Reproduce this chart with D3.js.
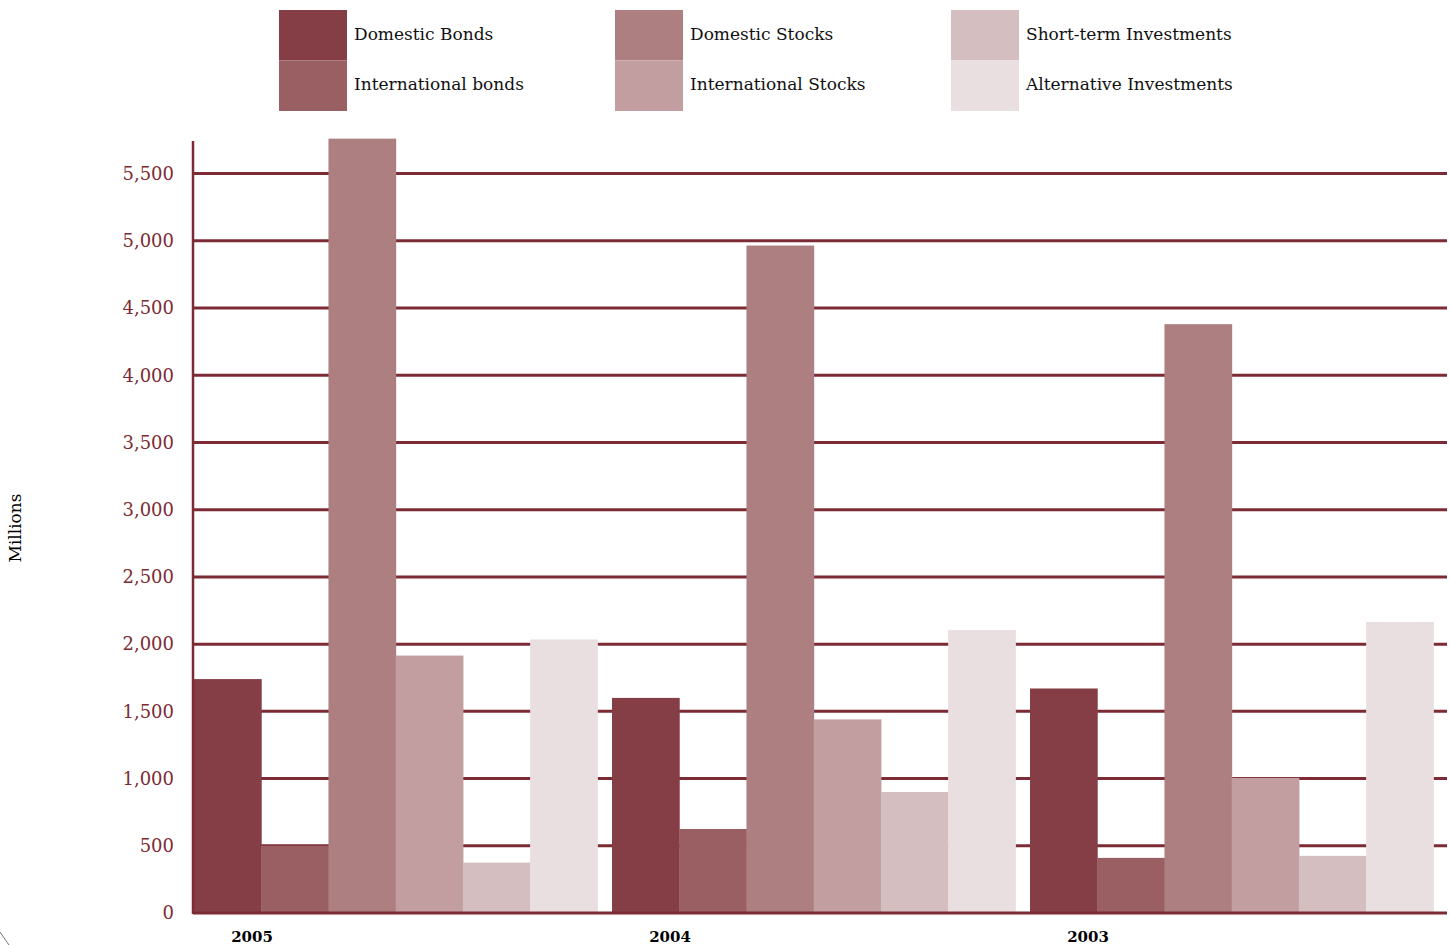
<!DOCTYPE html>
<html>
<head>
<meta charset="utf-8">
<script src="https://cdn.jsdelivr.net/npm/d3@7"></script>
<style>
  body { margin: 0; background: #fff; }
  text { font-family: "DejaVu Serif", serif; }
</style>
</head>
<body>
<div id="chart"></div>
<script>
var w = 1450;
var h = 945;

// data
var years = ["2005", "2004", "2003"];
var seriesNames = ["Domestic Bonds", "International bonds", "Domestic Stocks",
                   "International Stocks", "Short-term Investments", "Alternative Investments"];
var domesticBonds      = [1740, 1600, 1670];
var internationalBonds = [500, 625, 410];
var domesticStocks     = [5760, 4965, 4380];
var internationalStocks = [1915, 1440, 1005];
var shortTerm          = [375, 900, 425];
var alternative        = [2035, 2105, 2165];
var yTicks = [0, 500, 1000, 1500, 2000, 2500, 3000, 3500, 4000, 4500, 5000, 5500];

var seriesValues = [domesticBonds, internationalBonds, domesticStocks,
                    internationalStocks, shortTerm, alternative];
var colors = ["#853e45", "#9a5f62", "#ad7f80", "#c29ea0", "#d5bec0", "#eadfe0"];
var lineColor = "#7c2b34";

var svg = d3.select("#chart")
  .append("svg")
  .attr("width", w)
  .attr("height", h);

var plotLeft = 193, plotRight = 1447, plotBottom = 913, plotTop = 140;

var x0 = d3.scaleBand()
  .domain(years)
  .range([plotLeft + 1, plotLeft + 1 + 3 * 418])
  .padding(0);

var x1 = d3.scaleBand()
  .domain(d3.range(seriesNames.length))
  .range([0, x0.bandwidth() * 0.965]);

var y = d3.scaleLinear()
  .domain([0, 5750])
  .range([plotBottom, plotTop]);

// gridlines (behind bars)
svg.selectAll(".grid")
  .data(yTicks.filter(function(d) { return d > 0; }))
  .enter()
  .append("line")
  .attr("class", "grid")
  .attr("x1", plotLeft)
  .attr("x2", plotRight)
  .attr("y1", function(d) { return y(d); })
  .attr("y2", function(d) { return y(d); })
  .attr("stroke", lineColor)
  .attr("stroke-width", 3);

// bars
var groups = svg.selectAll(".year")
  .data(years)
  .enter()
  .append("g")
  .attr("class", "year")
  .attr("transform", function(d) { return "translate(" + x0(d) + ",0)"; });

groups.selectAll("rect")
  .data(function(d, i) {
    return seriesValues.map(function(s, k) { return { k: k, v: s[i] }; });
  })
  .enter()
  .append("rect")
  .attr("x", function(d) { return x1(d.k); })
  .attr("width", x1.bandwidth() + 0.5)
  .attr("y", function(d) { return y(d.v); })
  .attr("height", function(d) { return plotBottom - y(d.v); })
  .style("fill", function(d) { return colors[d.k]; });

// axis lines
svg.append("line")
  .attr("x1", plotLeft).attr("x2", plotLeft)
  .attr("y1", 141).attr("y2", plotBottom + 1)
  .attr("stroke", lineColor)
  .attr("stroke-width", 2.5);

svg.append("line")
  .attr("x1", plotLeft).attr("x2", plotRight)
  .attr("y1", plotBottom).attr("y2", plotBottom)
  .attr("stroke", lineColor)
  .attr("stroke-width", 3);

// y tick labels
svg.selectAll(".ylab")
  .data(yTicks)
  .enter()
  .append("text")
  .attr("class", "ylab")
  .attr("x", 174)
  .attr("y", function(d) { return y(d); })
  .attr("dy", "0.35em")
  .attr("text-anchor", "end")
  .attr("font-size", "18px")
  .attr("fill", lineColor)
  .text(function(d) { return d3.format(",")(d); });

// x labels
svg.selectAll(".xlab")
  .data(years)
  .enter()
  .append("text")
  .attr("class", "xlab")
  .attr("x", function(d) { return x0(d) + 58; })
  .attr("y", 942)
  .attr("text-anchor", "middle")
  .attr("font-size", "15px")
  .attr("font-weight", "bold")
  .attr("fill", "#000")
  .text(function(d) { return d; });

// axis title
svg.append("text")
  .attr("transform", "translate(21,528) rotate(-90)")
  .attr("text-anchor", "middle")
  .attr("font-size", "17px")
  .attr("fill", "#000")
  .text("Millions");

// little stray mark at the bottom left corner
svg.append("line")
  .attr("x1", 0).attr("y1", 932)
  .attr("x2", 9).attr("y2", 945)
  .attr("stroke", "#555")
  .attr("stroke-width", 0.8);

// legend, 3 columns x 2 rows
var legend = svg.selectAll(".legend")
  .data(seriesNames)
  .enter()
  .append("g")
  .attr("class", "legend")
  .attr("transform", function(d, i) {
    var col = Math.floor(i / 2), row = i % 2;
    return "translate(" + (279 + col * 336) + "," + (10 + row * 50.5) + ")";
  });

legend.append("rect")
  .attr("width", 68)
  .attr("height", 50.5)
  .style("fill", function(d, i) { return colors[i]; });

legend.append("text")
  .attr("x", 75)
  .attr("y", 24)
  .attr("dy", "0.35em")
  .attr("font-size", "17px")
  .attr("fill", "#111")
  .text(function(d) { return d; });
</script>
</body>
</html>
